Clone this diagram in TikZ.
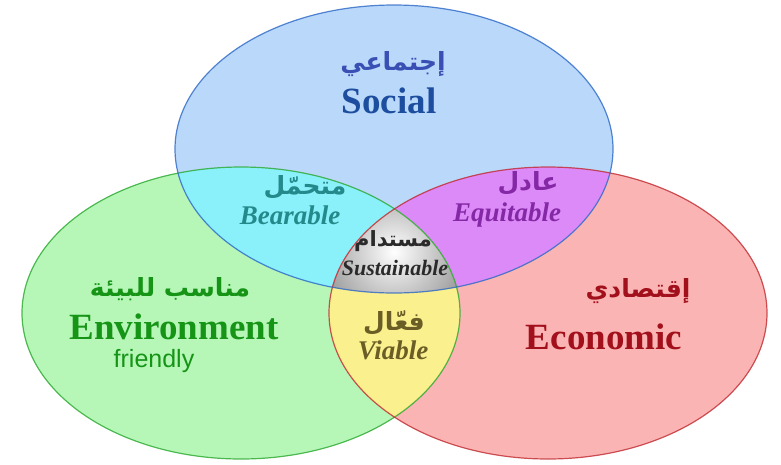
\documentclass[tikz,border=0pt]{standalone}
\usepackage{fontspec}
\setmainfont{Liberation Serif}
\setsansfont{Liberation Sans}
\newfontfamily\arabicfont[Script=Arabic]{DejaVu Sans}
\TeXXeTstate=1
\usepackage{xcolor}

\definecolor{socfill}{HTML}{B9D8FA}
\definecolor{envfill}{HTML}{B6F7B8}
\definecolor{ecofill}{HTML}{FAB4B4}
\definecolor{bearfill}{HTML}{8AF1FA}
\definecolor{equifill}{HTML}{DC8AF7}
\definecolor{viabfill}{HTML}{FBF08E}
\definecolor{socline}{HTML}{2C68C6}
\definecolor{envline}{HTML}{2AA82E}
\definecolor{ecoline}{HTML}{C02A30}
\definecolor{soctext}{HTML}{1C4D9E}
\definecolor{socartext}{HTML}{3A4FB4}
\definecolor{envtext}{HTML}{159416}
\definecolor{ecotext}{HTML}{A2101C}
\definecolor{beartext}{HTML}{24898A}
\definecolor{equitext}{HTML}{8428A6}
\definecolor{susttext}{HTML}{2A2A2A}
\definecolor{viabtext}{HTML}{6A5E26}

\def\topell{(394,149) ellipse (219pt and 144pt)}
\def\leftell{(241,313) ellipse (219pt and 146pt)}
\def\rightell{(548,313) ellipse (219pt and 146pt)}

\begin{document}
\begin{tikzpicture}[x=1pt, y=-1pt, line width=1.2pt]
\tikzstyle{every node} = [inner sep=0pt, align=center]
\tikzstyle{big} = [font=\fontsize{37}{40}\selectfont\bfseries]
\tikzstyle{small} = [font=\fontsize{27}{30}\selectfont\bfseries\itshape]
\tikzstyle{arab} = [font=\fontsize{25}{28}\selectfont\arabicfont\bfseries]
\useasboundingbox (0,0) rectangle (781,464);
\fill[envfill] \leftell;
\fill[ecofill] \rightell;
\fill[socfill] \topell;
\begin{scope}
\clip \topell;
\fill[bearfill] \leftell;
\fill[equifill] \rightell;
\end{scope}
\begin{scope}
\clip \leftell;
\fill[viabfill] \rightell;
\end{scope}
\begin{scope}
\clip \topell;
\clip \leftell;
\clip \rightell;
\shade[inner color=white, outer color=black!40] (394,252) circle (75pt);
\end{scope}
\draw[envline, draw opacity=0.8] \leftell;
\draw[ecoline, draw opacity=0.8] \rightell;
\draw[socline, draw opacity=0.8] \topell;
% main texts
\node[arab, text=socartext] (socar) at (393,64) {\beginR إجتماعي\endR};
\node[big, text=soctext] (soc) at (389,101) {Social};
\node[arab, text=envtext] (envar) at (170,289) {\beginR مناسب للبيئة\endR};
\node[big, text=envtext] (env) at (174,327) {Environment};
\node[font=\fontsize{25}{28}\selectfont\sffamily, text=envtext] (fr) at (154,361) {friendly};
\node[arab, text=ecotext] (ecoar) at (638,291) {\beginR إقتصادي\endR};
\node[big, text=ecotext] (eco) at (604,337) {Economic};
% overlaps
\node[arab, text=beartext] (bearar) at (305,187) {\beginR متحمّل\endR};
\node[small, text=beartext] (bear) at (290,215) {Bearable};
\node[arab, text=equitext] (equiar) at (528,183) {\beginR عادل\endR};
\node[small, text=equitext] (equi) at (507,215) {Equitable};
\node[arab, text=susttext, font=\fontsize{21}{24}\selectfont\arabicfont\bfseries] (sustar) at (393,241) {\beginR مستدام\endR};
\node[font=\fontsize{22}{24}\selectfont\bfseries\itshape, text=susttext] (sust) at (395,268) {Sustainable};
\node[arab, text=viabtext] (viabar) at (394,323) {\beginR فعّال\endR};
\node[small, text=viabtext] (viab) at (393,350) {Viable};
\end{tikzpicture}
\end{document}
